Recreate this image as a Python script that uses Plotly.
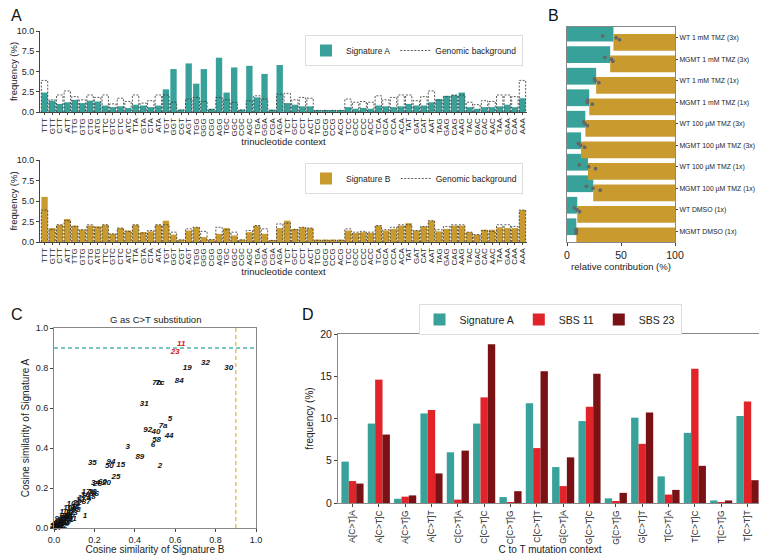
import plotly.graph_objects as go

# ---------------- data ----------------
contexts = ["TTT","GTT","CTT","ATT","TTG","GTG","CTG","ATG","TTC","GTC","CTC","ATC","TTA","GTA","CTA","ATA",
            "TGT","GGT","CGT","AGT","TGG","GGG","CGG","AGG","TGC","GGC","CGC","AGC","TGA","GGA","CGA","AGA",
            "TCT","GCT","CCT","ACT","TCG","GCG","CCG","ACG","TCC","GCC","CCC","ACC","TCA","GCA","CCA","ACA",
            "TAT","GAT","CAT","AAT","TAG","GAG","CAG","AAG","TAC","GAC","CAC","AAC","TAA","GAA","CAA","AAA"]
sig_a = [2.4,1.4,1.0,1.2,1.5,1.1,1.4,1.3,0.8,0.6,0.7,0.5,0.9,0.8,0.6,0.8,
         2.8,5.3,0.3,6.0,3.5,5.3,0.4,6.7,2.4,5.5,0.3,5.7,1.8,4.7,0.3,5.8,
         1.1,0.9,0.7,0.7,0.2,0.2,0.2,0.2,0.6,0.4,0.5,0.4,0.8,0.7,0.6,0.7,
         1.0,0.8,0.8,1.2,1.6,2.0,2.1,2.4,0.6,0.4,0.6,0.6,0.7,0.9,0.6,1.7]
sig_b = [5.5,1.7,2.1,2.8,2.0,1.5,2.0,1.9,2.1,1.0,1.7,1.4,2.1,1.2,1.3,2.1,
         2.6,0.9,0.3,1.4,1.8,0.6,0.3,1.0,1.7,0.8,0.3,1.2,2.0,1.0,0.2,1.7,
         2.6,1.6,1.8,1.7,0.3,0.3,0.3,0.3,1.4,1.1,1.2,1.1,2.0,1.4,1.6,2.0,
         2.3,1.4,1.9,2.6,1.3,1.6,2.0,2.0,1.2,0.9,1.5,1.5,1.8,1.7,1.7,3.9]
background = [3.9,1.5,2.1,2.6,1.9,1.5,2.1,1.8,2.1,1.0,1.7,1.3,2.1,1.1,1.4,2.1,
              2.1,1.2,0.25,1.6,1.8,1.3,0.3,1.8,1.5,1.2,0.25,1.4,2.0,1.6,0.2,2.2,
              2.3,1.5,1.8,1.7,0.2,0.2,0.2,0.2,1.6,1.2,1.3,1.2,2.0,1.5,1.8,2.1,
              2.1,1.4,1.9,2.6,1.5,1.9,2.1,2.1,1.2,0.9,1.4,1.3,2.1,2.1,1.9,3.9]

conditions = ["WT 1 mM TMZ (3x)","MGMT 1 mM TMZ (3x)","WT 1 mM TMZ (1x)","MGMT 1 mM TMZ (1x)",
              "WT 100 µM TMZ (3x)","MGMT 100 µM TMZ (3x)","WT 100 µM TMZ (1x)","MGMT 100 µM TMZ (1x)",
              "WT DMSO (1x)","MGMT DMSO (1x)"]
contrib_a = [43,40,27,20.6,17,13,19.4,24.3,9.5,8.6]
replicates = [[33,45.5,48.6],[35,41,42.5],[25.5,26,29.5],[19,19,23.4],[15.4,16.6,18.8],
              [10.5,12.6,16.3],[11.4,20,26.5],[18,24,30.8],[6.8,9.2,11.7],[8.6,8.6,8.6]]

red_labels = ["11","23"]
red_x = [0.63,0.60]
red_y = [0.92,0.88]
sbs_labels = ["32","19","30","84","7b","7c","31","5","7a","92","40","44","58","6","3","89","2",
              "35","94","50","15","25","34","26","60","20","1",
              "17b","13","16","36","17a","18","87","12","10a","22","21","14","28","8","33","91",
              "37","39","41","9","10b","24","27","38","42","43","45","46","47","48","49","51",
              "52","53","54","55","56","57","85","86","88","90","93","10c","10d"]
sbs_x = [0.75,0.66,0.865,0.62,0.51,0.525,0.447,0.574,0.54,0.464,0.505,0.57,0.508,0.49,0.365,0.425,0.525,
         0.19,0.282,0.274,0.33,0.307,0.205,0.215,0.24,0.26,0.153,
         0.17,0.19,0.2,0.155,0.15,0.185,0.16,0.13,0.095,0.115,0.105,0.085,0.11,0.07,0.095,0.09,
         0.06,0.045,0.075,0.03,0.05,0.02,0.035,0.01,0.025,0.005,0.04,0.015,0.06,0.02,0.008,0.03,
         0.045,0.012,0.055,0.065,0.002,0.018,0.07,0.08,0.04,0.05,0.025,0.06,0.08]
sbs_y = [0.825,0.80,0.80,0.735,0.725,0.725,0.62,0.545,0.508,0.49,0.48,0.46,0.44,0.413,0.405,0.355,0.31,
         0.325,0.33,0.31,0.317,0.255,0.226,0.222,0.232,0.226,0.058,
         0.18,0.18,0.17,0.165,0.15,0.155,0.13,0.14,0.12,0.125,0.105,0.095,0.09,0.075,0.075,0.045,
         0.06,0.05,0.04,0.035,0.03,0.02,0.015,0.01,0.005,0.003,0.025,0.012,0.035,0.03,0.018,0.008,
         0.012,0.004,0.02,0.045,0.01,0.002,0.055,0.065,0.04,0.06,0.045,0.08,0.1]
threshold = 0.9

ct_contexts = ["A[C>T]A","A[C>T]C","A[C>T]G","A[C>T]T","C[C>T]A","C[C>T]C","C[C>T]G","C[C>T]T",
               "G[C>T]A","G[C>T]C","G[C>T]G","G[C>T]T","T[C>T]A","T[C>T]C","T[C>T]G","T[C>T]T"]
d_sig_a = [4.9,9.4,0.5,10.6,6.0,9.4,0.7,11.8,4.25,9.7,0.55,10.1,3.15,8.3,0.3,10.3]
d_sbs11 = [2.6,14.6,0.75,11.0,0.4,12.5,0.08,6.5,2.0,11.4,0.2,7.0,1.0,15.9,0.05,12.0]
d_sbs23 = [2.3,8.1,0.9,3.5,6.2,18.8,1.4,15.6,5.4,15.3,1.2,10.7,1.55,4.4,0.3,2.7]

# ---------------- style ----------------
TEAL = "#38a29a"
GOLD = "#c99b2f"
RED = "#e0242a"
DRED = "#7a1114"
FONT = "Liberation Sans, Arial, sans-serif"
OFF = 8                       # page body margin in the browser
W, H = 767 - OFF, 555 - OFF   # figure size so that it fills the window

def px_x(p):
    return (p - OFF) / W

def px_y(p):
    return 1 - (p - OFF) / H

def dom_x(a, b):
    return [px_x(a), px_x(b)]

def dom_y(top, bottom):
    return [px_y(bottom), px_y(top)]

fig = go.Figure()

# ---------------- panel A ----------------
n = len(contexts)
xs_idx = list(range(n))
bw = 0.84

def outline(vals):
    ox, oy = [], []
    for i, h in enumerate(vals):
        ox += [i - bw / 2, i - bw / 2, i + bw / 2, i + bw / 2, None]
        oy += [0, h, h, 0, None]
    return ox, oy

for vals, name, col, xa, ya, lg in [
        (sig_a, "Signature A", TEAL, "x", "y", "legend"),
        (sig_b, "Signature B", GOLD, "x2", "y2", "legend2")]:
    fig.add_trace(go.Bar(x=xs_idx, y=vals, width=bw, marker=dict(color=col, line=dict(width=0)),
                         name=name, xaxis=xa, yaxis=ya, legend=lg))
    ox, oy = outline(background)
    fig.add_trace(go.Scatter(x=ox, y=oy, mode="lines", name="Genomic background",
                             line=dict(color="#333333", width=0.8, dash="2px,1.5px"),
                             xaxis=xa, yaxis=ya, legend=lg, hoverinfo="skip"))

axA_x = dict(range=[-0.6, n - 0.4], tickmode="array", tickvals=xs_idx, ticktext=contexts,
             tickangle=-90, tickfont=dict(size=8, color="#222"), showline=True, linecolor="#444",
             linewidth=1, ticks="outside", ticklen=2, tickcolor="#444", showgrid=False, zeroline=False,
             title=dict(text="trinucleotide context", font=dict(size=9.5, color="#222"), standoff=2))
axA_y = dict(range=[0, 10], tickvals=[0, 2.5, 5, 7.5, 10], ticktext=["0.0", "2.5", "5.0", "7.5", "10.0"],
             tickfont=dict(size=9, color="#222"), showline=True, linecolor="#444", linewidth=1,
             ticks="outside", ticklen=3, tickcolor="#444", showgrid=False, zeroline=False,
             title=dict(text="frequency (%)", font=dict(size=9.5, color="#222"), standoff=4))

fig.update_layout(
    xaxis=dict(domain=dom_x(40, 527), anchor="y", **axA_x),
    yaxis=dict(domain=dom_y(31, 112), anchor="x", **axA_y),
    xaxis2=dict(domain=dom_x(40, 527), anchor="y2", **axA_x),
    yaxis2=dict(domain=dom_y(160, 242), anchor="x2", **axA_y),
)

# ---------------- panel B ----------------
rows = list(range(len(conditions)))
fig.add_trace(go.Bar(y=rows, x=contrib_a, orientation="h", marker=dict(color=TEAL, line=dict(width=0)),
                     width=0.78, xaxis="x3", yaxis="y3", showlegend=False))
fig.add_trace(go.Bar(y=rows, x=[100 - v for v in contrib_a], base=contrib_a, orientation="h",
                     marker=dict(color=GOLD, line=dict(width=0)), width=0.78,
                     xaxis="x3", yaxis="y3", showlegend=False))
jitter = [-0.09, 0.0, 0.09]
dx, dy = [], []
for r, reps in enumerate(replicates):
    for j, v in enumerate(reps):
        dx.append(v)
        dy.append(r + jitter[j])
fig.add_trace(go.Scatter(x=dx, y=dy, mode="markers", marker=dict(color="#666666", size=3.8),
                         xaxis="x3", yaxis="y3", showlegend=False))
fig.update_layout(
    xaxis3=dict(domain=dom_x(567, 675), anchor="y3", range=[0, 100], tickvals=[0, 50, 100],
                tickfont=dict(size=10.5, color="#222"), showline=True, linecolor="#888", mirror=True,
                ticks="outside", ticklen=3, tickcolor="#444", showgrid=False, zeroline=False,
                title=dict(text="relative contribution (%)", font=dict(size=9.5, color="#222"), standoff=2)),
    yaxis3=dict(domain=dom_y(27, 242), anchor="x3", range=[len(conditions) - 0.5, -0.5],
                tickmode="array", tickvals=rows, ticktext=conditions, side="right",
                tickfont=dict(size=6.9, color="#222"), showline=True, linecolor="#888", mirror=True,
                ticks="outside", ticklen=2, tickcolor="#444", showgrid=False, zeroline=False),
)

# ---------------- panel C ----------------
cfont = dict(family=FONT, size=8, color="#111", style="italic", weight="bold")
fig.add_trace(go.Scatter(x=sbs_x, y=sbs_y, text=sbs_labels, mode="text", textfont=cfont,
                         cliponaxis=False, xaxis="x4", yaxis="y4", showlegend=False))
fig.add_trace(go.Scatter(x=red_x, y=red_y, text=red_labels, mode="text",
                         textfont=dict(cfont, color="#d42020"),
                         cliponaxis=False, xaxis="x4", yaxis="y4", showlegend=False))
fig.add_shape(type="line", xref="x4", yref="y4", x0=0, x1=1, y0=threshold, y1=threshold,
              line=dict(color="#4fb5ad", width=1.5, dash="4px,3px"))
fig.add_shape(type="line", xref="x4", yref="y4", x0=threshold, x1=threshold, y0=0, y1=1,
              line=dict(color="#e6c35c", width=1.5, dash="4px,3px"))
axC = dict(range=[0, 1], tickvals=[0, 0.2, 0.4, 0.6, 0.8, 1.0],
           ticktext=["0.0", "0.2", "0.4", "0.6", "0.8", "1.0"], tickfont=dict(size=9, color="#222"),
           showline=True, linecolor="#888", mirror=True, ticks="outside", ticklen=3, tickcolor="#444",
           showgrid=False, zeroline=False)
fig.update_layout(
    xaxis4=dict(domain=dom_x(54, 256), anchor="y4",
                title=dict(text="Cosine similarity of Signature B", font=dict(size=10, color="#222"), standoff=3),
                **axC),
    yaxis4=dict(domain=dom_y(328, 528), anchor="x4",
                title=dict(text="Cosine similarity of Signature A", font=dict(size=10, color="#222"), standoff=4),
                **axC),
)

# ---------------- panel D ----------------
dx_idx = list(range(len(ct_contexts)))
for vals, name, col in [(d_sig_a, "Signature A", TEAL), (d_sbs11, "SBS 11", RED), (d_sbs23, "SBS 23", DRED)]:
    fig.add_trace(go.Bar(x=dx_idx, y=vals, name=name, marker=dict(color=col, line=dict(width=0)),
                         xaxis="x5", yaxis="y5", legend="legend3", offsetgroup=name))
fig.update_layout(
    xaxis5=dict(domain=dom_x(338, 762), anchor="y5", range=[-0.55, len(ct_contexts) - 0.45],
                tickmode="array", tickvals=dx_idx, ticktext=ct_contexts, tickangle=-90,
                tickfont=dict(size=8.5, color="#222"), showline=True, linecolor="#888", mirror=True,
                ticks="outside", ticklen=3, tickcolor="#444", showgrid=False, zeroline=False,
                title=dict(text="C to T mutation context", font=dict(size=10, color="#222"), standoff=2)),
    yaxis5=dict(domain=dom_y(334, 503), anchor="x5", range=[0, 20], tickvals=[0, 5, 10, 15, 20],
                tickfont=dict(size=10.5, color="#222"), showline=True, linecolor="#888", mirror=True,
                ticks="outside", ticklen=3, tickcolor="#444", showgrid=False, zeroline=False,
                title=dict(text="frequency (%)", font=dict(size=10, color="#222"), standoff=4)),
    barmode="group", bargap=0.16, bargroupgap=0,
)

# ---------------- legends ----------------
leg_common = dict(orientation="h", bgcolor="white", bordercolor="#dddddd", borderwidth=1,
                  font=dict(size=8.5, color="#222", family=FONT), xanchor="right", yanchor="top",
                  itemwidth=30, tracegroupgap=0)
fig.update_layout(
    legend=dict(x=px_x(523), y=px_y(35), **leg_common),
    legend2=dict(x=px_x(523), y=px_y(163), **leg_common),
    legend3=dict(orientation="h", bgcolor="white", bordercolor="#dddddd", borderwidth=1,
                 font=dict(size=10.5, color="#222", family=FONT), xanchor="center", yanchor="top",
                 x=px_x(550), y=px_y(304), itemwidth=30),
)

# ---------------- annotations ----------------
ann = [
    dict(text="A", x=px_x(9), y=px_y(5)),
    dict(text="B", x=px_x(546), y=px_y(5)),
    dict(text="C", x=px_x(9), y=px_y(304)),
    dict(text="D", x=px_x(300), y=px_y(304)),
]
for a in ann:
    fig.add_annotation(xref="paper", yref="paper", xanchor="left", yanchor="top", showarrow=False,
                       font=dict(size=16, color="#111", family=FONT), **a)
fig.add_annotation(xref="paper", yref="paper", x=px_x(155), y=px_y(327), xanchor="center",
                   yanchor="bottom", showarrow=False, text="G as C>T substitution",
                   font=dict(size=9.5, color="#222", family=FONT))

fig.update_layout(width=W, height=H, autosize=False,
                  margin=dict(l=0, r=0, t=0, b=0, pad=0, autoexpand=False),
                  paper_bgcolor="white", plot_bgcolor="white", font=dict(family=FONT, color="#222"))

fig.write_html("out.html")
